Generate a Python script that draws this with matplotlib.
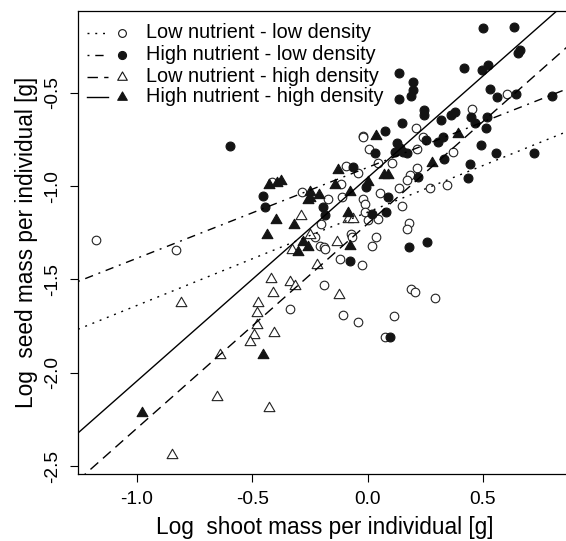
import matplotlib
matplotlib.use("Agg")
import matplotlib.pyplot as plt
from matplotlib.path import Path
import numpy as np

plt.rcParams['font.family'] = ['Liberation Sans', 'DejaVu Sans']

# low nutrient - low density (open circles)
ll_x = [-0.416, -0.283, -1.178, -0.832, -0.337, 0.605, 0.453, 0.209, -0.022, -0.019,
        0.238, 0.212, 0.004, 0.368, 0.105, 0.043, -0.094, 0.214, -0.041, 0.183,
        0.169, 0.342, 0.270, 0.137, -0.117, 0.053, -0.019, -0.113, -0.171, -0.012,
        -0.012, 0.149, 0.046, 0.003, -0.204, 0.180, 0.172, -0.228, -0.072, -0.069,
        0.036, 0.020, -0.207, -0.189, -0.185, -0.120, -0.023, -0.189, 0.188, 0.205,
        0.292, -0.108, -0.042, 0.114, 0.075]
ll_y = [-0.976, -1.029, -1.290, -1.340, -1.660, -0.505, -0.587, -0.686, -0.730, -0.737,
        -0.734, -0.802, -0.802, -0.815, -0.877, -0.877, -0.890, -0.900, -0.931, -0.940,
        -0.967, -0.996, -1.011, -1.011, -0.988, -1.035, -1.070, -1.056, -1.070, -1.095,
        -1.140, -1.106, -1.176, -1.181, -1.204, -1.195, -1.231, -1.271, -1.256, -1.274,
        -1.274, -1.319, -1.319, -1.324, -1.336, -1.390, -1.422, -1.531, -1.553, -1.569,
        -1.598, -1.690, -1.726, -1.696, -1.807]

# high nutrient - low density (filled circles)
hl_x = [-0.597, -0.453, -0.444, 0.498, 0.635, 0.660, 0.653, 0.417, 0.494, 0.523,
        0.134, 0.198, 0.195, 0.186, 0.530, 0.559, 0.643, 0.800, 0.134, 0.244,
        0.244, 0.378, 0.360, 0.316, 0.446, 0.465, 0.516, 0.150, 0.511, 0.076,
        0.328, 0.306, 0.253, 0.491, 0.126, 0.140, 0.118, 0.154, 0.169, 0.032,
        0.555, 0.722, 0.331, 0.443, -0.062, 0.219, 0.433, 0.089, -0.007, -0.195,
        -0.185, 0.017, 0.079, 0.180, 0.258, -0.077, 0.097]
hl_y = [-0.783, -1.051, -1.113, -0.153, -0.145, -0.269, -0.284, -0.368, -0.377, -0.350,
        -0.394, -0.439, -0.484, -0.516, -0.480, -0.523, -0.505, -0.516, -0.534, -0.591,
        -0.618, -0.600, -0.618, -0.645, -0.630, -0.659, -0.627, -0.663, -0.689, -0.702,
        -0.734, -0.761, -0.752, -0.779, -0.770, -0.797, -0.815, -0.815, -0.823, -0.820,
        -0.823, -0.823, -0.856, -0.881, -0.895, -0.949, -0.957, -1.056, -1.002, -1.113,
        -1.154, -1.149, -1.136, -1.327, -1.297, -1.399, -1.810]

# low nutrient - high density (open triangles)
lh_x = [-0.290, -0.250, -0.327, -0.420, -0.337, -0.315, -0.409, -0.808, -0.474, -0.479,
        -0.481, -0.492, -0.405, -0.510, -0.640, -0.655, -0.427, -0.848, -0.087, -0.062,
        -0.134, -0.221, -0.124]
lh_y = [-1.158, -1.261, -1.342, -1.497, -1.512, -1.535, -1.573, -1.628, -1.628, -1.681,
        -1.744, -1.798, -1.789, -1.837, -1.905, -2.128, -2.191, -2.441, -1.177, -1.177,
        -1.297, -1.422, -1.583]

# high nutrient - high density (filled triangles)
hh_x = [-0.427, -0.394, -0.377, -0.257, -0.397, -0.319, -0.438, -0.282, -0.303, -0.259,
        -0.453, -0.980, 0.390, 0.036, 0.280, 0.087, 0.072, -0.130, 0.003, -0.142,
        -0.077, -0.250, -0.210, -0.250, -0.084, -0.077]
hh_y = [-0.993, -0.984, -0.970, -1.074, -1.181, -1.208, -1.261, -1.297, -1.354, -1.324,
        -1.905, -2.217, -0.721, -0.730, -0.877, -0.940, -0.940, -0.913, -0.976, -0.993,
        -1.029, -1.029, -1.047, -1.065, -1.145, -1.319]

# fitted lines: intercept, slope
fit_ll = (-1.139, 0.500)
fit_hl = (-0.899, 0.487)
fit_lh = (-1.201, 1.096)
fit_hh = (-0.954, 1.090)

labels = ['Low nutrient - low density', 'High nutrient - low density',
          'Low nutrient - high density', 'High nutrient - high density']

xlim = (-1.256, 0.886)
ylim = (-2.543, -0.059)

fig = plt.figure(figsize=(5.66, 5.41), dpi=100)
ax = fig.add_axes([0.1378, 0.1238, 0.8728, 0.8564])

dotted = (0, (1.4, 4.2))
dotdash = (0, (1.4, 4.2, 6.0, 4.2))
dashed = (0, (7.5, 4.5))
styles = [dotted, dotdash, dashed, '-']
fits = [fit_ll, fit_hl, fit_lh, fit_hh]

# R-like triangle (wider than tall, centred on centroid)
tri = Path([(-1.0, -0.577), (1.0, -0.577), (0.0, 1.155), (-1.0, -0.577)],
           [Path.MOVETO, Path.LINETO, Path.LINETO, Path.CLOSEPOLY])

xx = np.array(xlim)
for (a, b), ls in zip(fits, styles):
    ax.plot(xx, a + b * xx, color='black', lw=1.0, ls=ls, zorder=3)

mk = dict(linestyle='none', markeredgewidth=0.8, zorder=2)
ax.plot(ll_x, ll_y, marker='o', ms=6.2, mfc='white', mec='#222222', **mk)
ax.plot(hl_x, hl_y, marker='o', ms=6.4, mfc='#141414', mec='#141414', **mk)
ax.plot(lh_x, lh_y, marker=tri, ms=9.0, mfc='white', mec='#222222', **mk)
ax.plot(hh_x, hh_y, marker=tri, ms=9.0, mfc='#141414', mec='#141414', **mk)

# legend drawn by hand (line sample, then symbol, then text)
markers = [('o', 'white', 5.6), ('o', '#141414', 5.8), (tri, 'white', 8.0), (tri, '#141414', 8.0)]
rows = [0.952, 0.905, 0.858, 0.814]
for ls, (m, fc, s), lab, ry in zip(styles, markers, labels, rows):
    ax.plot([0.018, 0.061], [ry, ry], transform=ax.transAxes, color='black', lw=1.0, ls=ls)
    ax.plot([0.089], [ry], transform=ax.transAxes, marker=m, ms=s, mfc=fc, mec='#141414',
            mew=0.8, linestyle='none')
    ax.text(0.138, ry, lab, transform=ax.transAxes, fontsize=14.3, va='center', ha='left')

ax.set_xlim(xlim)
ax.set_ylim(ylim)
ax.set_xticks([-1.0, -0.5, 0.0, 0.5])
ax.set_yticks([-2.5, -2.0, -1.5, -1.0, -0.5])
ax.set_xticklabels(['-1.0', '-0.5', '0.0', '0.5'])
ax.set_yticklabels(['-2.5', '-2.0', '-1.5', '-1.0', '-0.5'], rotation=90, va='center')
ax.tick_params(direction='out', length=5.8, width=0.8, labelsize=13.8, pad=6.5)
for sp in ax.spines.values():
    sp.set_linewidth(0.9)

ax.set_xlabel('Log  shoot mass per individual [g]', fontsize=16.3, labelpad=6)
ax.set_ylabel('Log  seed mass per individual [g]', fontsize=16.3, labelpad=4)

fig.savefig('out.png', dpi=100)
